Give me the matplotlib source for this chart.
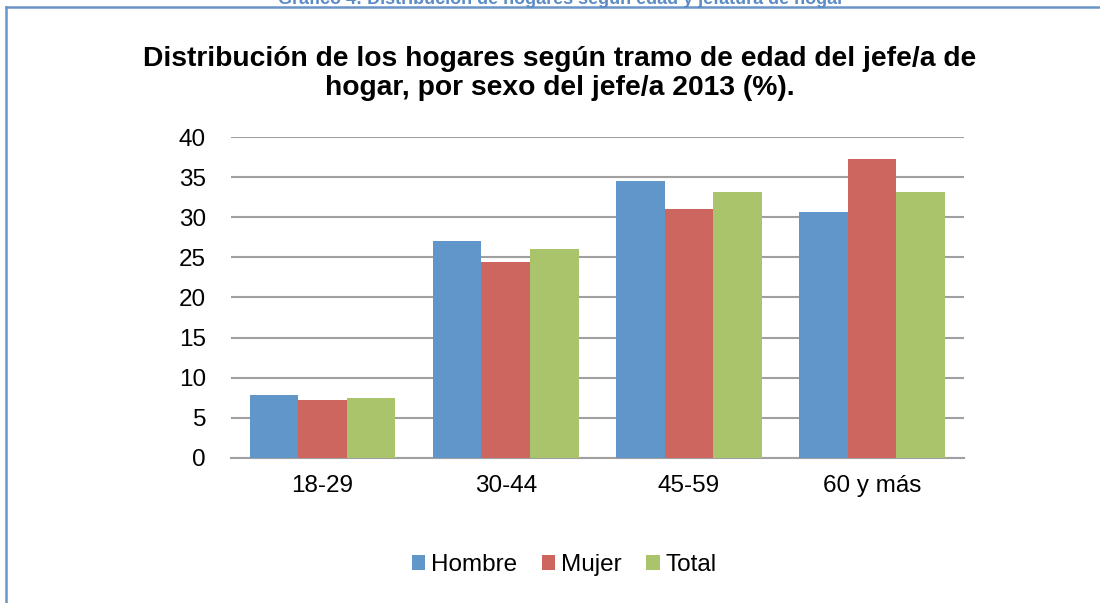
import matplotlib.pyplot as plt
import numpy as np
from matplotlib.lines import Line2D

plt.rcParams['font.family'] = ['Liberation Sans', 'DejaVu Sans']

# data
categories = ['18-29', '30-44', '45-59', '60 y más']
hombre = [7.8, 27.0, 34.5, 30.7]
mujer = [7.2, 24.4, 31.0, 37.3]
total = [7.5, 26.0, 33.2, 33.2]
series = [('Hombre', hombre, '#6096C9'),
          ('Mujer', mujer, '#CD665F'),
          ('Total', total, '#AAC46B')]

fig = plt.figure(figsize=(11, 6.03), dpi=100)
ax = fig.add_axes([0.21, 0.2405, 0.666, 0.5323])

x = np.arange(len(categories))
w = 0.265
for i, (name, vals, col) in enumerate(series):
    ax.bar(x + (i - 1) * w, vals, w, color=col, label=name, zorder=3)

ax.set_xlim(-0.5, len(categories) - 0.5)
ax.set_ylim(0, 40)
ax.set_yticks(range(0, 41, 5))
ax.set_xticks(x)
ax.set_xticklabels(categories)
ax.tick_params(length=0, labelsize=17.5, colors='black')
ax.tick_params(axis='x', pad=12)
ax.tick_params(axis='y', pad=18)
ax.grid(axis='y', color='#A0A0A0', linewidth=1.5, zorder=0)
for s in ['left', 'right', 'top']:
    ax.spines[s].set_visible(False)
ax.spines['bottom'].set_color('#A0A0A0')
ax.spines['bottom'].set_linewidth(1.5)

fig.text(0.509, 1 - 95 / 603,
         'Distribución de los hogares según tramo de edad del jefe/a de\nhogar, por sexo del jefe/a 2013 (%).',
         ha='center', va='baseline', fontsize=20.3, fontweight='bold', linespacing=1.15)

# clipped caption above the box
fig.text(0.51, 1 - 4 / 603,
         'Gráfico 4: Distribución de hogares según edad y jefatura de hogar',
         ha='center', va='baseline', fontsize=13, fontweight='bold', color='#5B8CC6')

# box border
fig.add_artist(Line2D([6 / 1100, 6 / 1100], [0, 1 - 7 / 603], color='#6A95C8', lw=1.8,
                      transform=fig.transFigure))
fig.add_artist(Line2D([6 / 1100, 1], [1 - 7 / 603, 1 - 7 / 603], color='#6A95C8', lw=1.8,
                      transform=fig.transFigure))

fig.legend(loc='center', bbox_to_anchor=(0.513, 1 - 565 / 603), ncol=3, frameon=False,
           fontsize=17.5, handlelength=0.55, handleheight=0.55, handletextpad=0.25,
           columnspacing=1.0)

fig.savefig('out.png', dpi=100)
